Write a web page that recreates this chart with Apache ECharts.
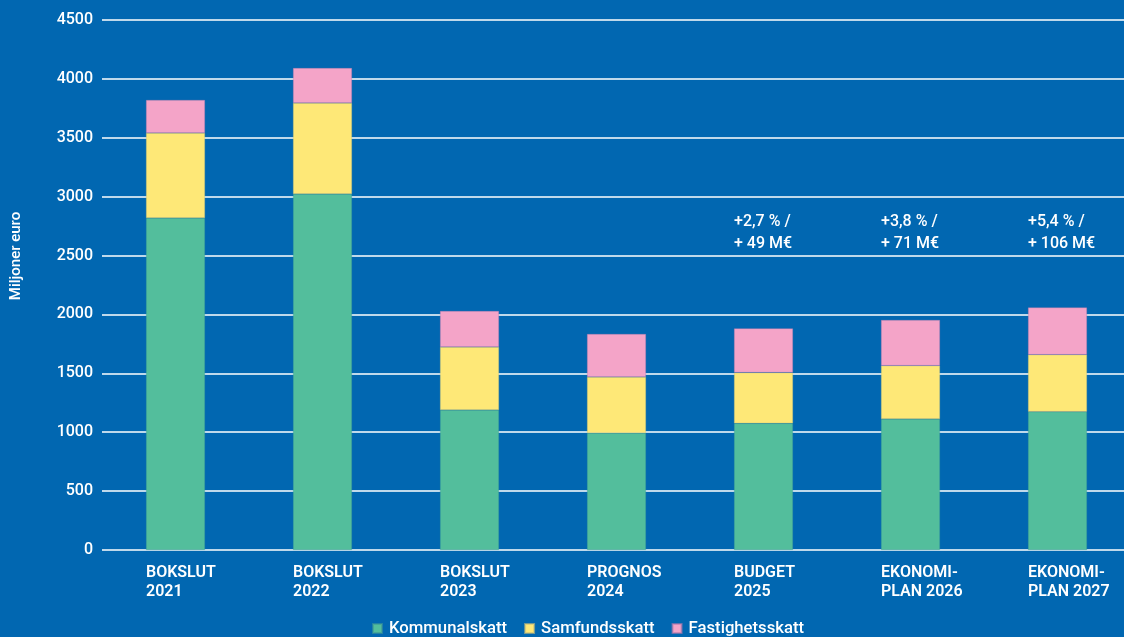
<!DOCTYPE html>
<html>
<head>
<meta charset="utf-8">
<script src="https://cdn.jsdelivr.net/npm/echarts@6/dist/echarts.min.js"></script>
<style>
html,body{margin:0;padding:0;background:#0167b1;overflow:hidden;}
#c{width:1140px;height:637px;}
</style>
</head>
<body>
<div id="c"></div>
<script>
const categories = ['BOKSLUT\n2021','BOKSLUT\n2022','BOKSLUT\n2023','PROGNOS\n2024','BUDGET\n2025','EKONOMI-\nPLAN 2026','EKONOMI-\nPLAN 2027'];
const kommunalskatt = [2819, 3023, 1189, 993, 1076, 1112, 1174];
const samfundsskatt = [722, 772, 535, 476, 430, 453, 484];
const fastighetsskatt = [280, 297, 305, 365, 376, 388, 401];
const annotations = [null, null, null, null, '+2,7 % /\n+ 49 M€', '+3,8 % /\n+ 71 M€', '+5,4 % /\n+ 106 M€'];
const yTicks = [0, 500, 1000, 1500, 2000, 2500, 3000, 3500, 4000, 4500];
const annotationY = 2690;

const font = 'Roboto, "Noto Sans", sans-serif';
const chart = echarts.init(document.getElementById('c'), null, {renderer:'canvas'});

const markData = [];
annotations.forEach((t, i) => { if (t) markData.push({coord:[categories[i], annotationY], value:t}); });

chart.setOption({
  backgroundColor: '#0167b1',
  animation: false,
  grid: {left: 102, width: 1029, top: 20, bottom: 87},
  legend: {
    left: 372, top: 620, padding: 0, icon: 'rect', itemWidth: 9, itemHeight: 9, itemGap: 17,
    data: ['Kommunalskatt','Samfundsskatt','Fastighetsskatt'],
    textStyle: {color:'#ffffff', fontSize: 16.7, fontFamily: font, fontWeight: 500, padding:[0,0,0,2]}
  },
  graphic: [{
    type: 'text', x: 16, y: 256, rotation: Math.PI/2,
    style: {text: 'Miljoner euro', fill:'#ffffff', font: '500 15px ' + font, textAlign:'center', textVerticalAlign:'middle'}
  }],
  xAxis: {
    type: 'category', data: categories,
    axisLine: {show:false}, axisTick: {show:false}, axisLabel: {show:false}
  },
  yAxis: {
    type: 'value', min: yTicks[0], max: yTicks[yTicks.length-1], interval: 500,
    axisLine: {show:false}, axisTick: {show:false},
    axisLabel: {color:'#ffffff', fontSize: 16, fontFamily: font, fontWeight: 500, margin: 9, formatter: v => String(v)},
    splitLine: {lineStyle: {color:'#ffffff', width: 1.5}}
  },
  series: [
    {
      name: 'Kommunalskatt', type: 'bar', stack: 'tot', data: kommunalskatt, barWidth: 59,
      itemStyle: {color:'#53be9c', borderColor:'rgba(60,150,150,0.6)', borderWidth: 0.6},
      label: {
        show: true, position: 'bottom', distance: 13, align: 'left', offset: [-29.5, 0],
        formatter: p => p.name, color:'#ffffff', fontSize: 16, fontFamily: font, fontWeight: 600, lineHeight: 19
      }
    },
    {
      name: 'Samfundsskatt', type: 'bar', stack: 'tot', data: samfundsskatt, barWidth: 59,
      itemStyle: {color:'#fee877', borderColor:'rgba(200,190,120,0.6)', borderWidth: 0.6}
    },
    {
      name: 'Fastighetsskatt', type: 'bar', stack: 'tot', data: fastighetsskatt, barWidth: 59,
      itemStyle: {color:'#f4a4c8', borderColor:'rgba(180,120,170,0.6)', borderWidth: 0.6},
      markPoint: {
        symbol: 'circle', symbolSize: 0, data: markData,
        label: {
          show: true, position: 'inside', align: 'left', offset: [-29.5, 0],
          formatter: p => p.value, color:'#ffffff', fontSize: 16, fontFamily: font, fontWeight: 500, lineHeight: 22
        }
      }
    }
  ]
});
</script>
</body>
</html>
